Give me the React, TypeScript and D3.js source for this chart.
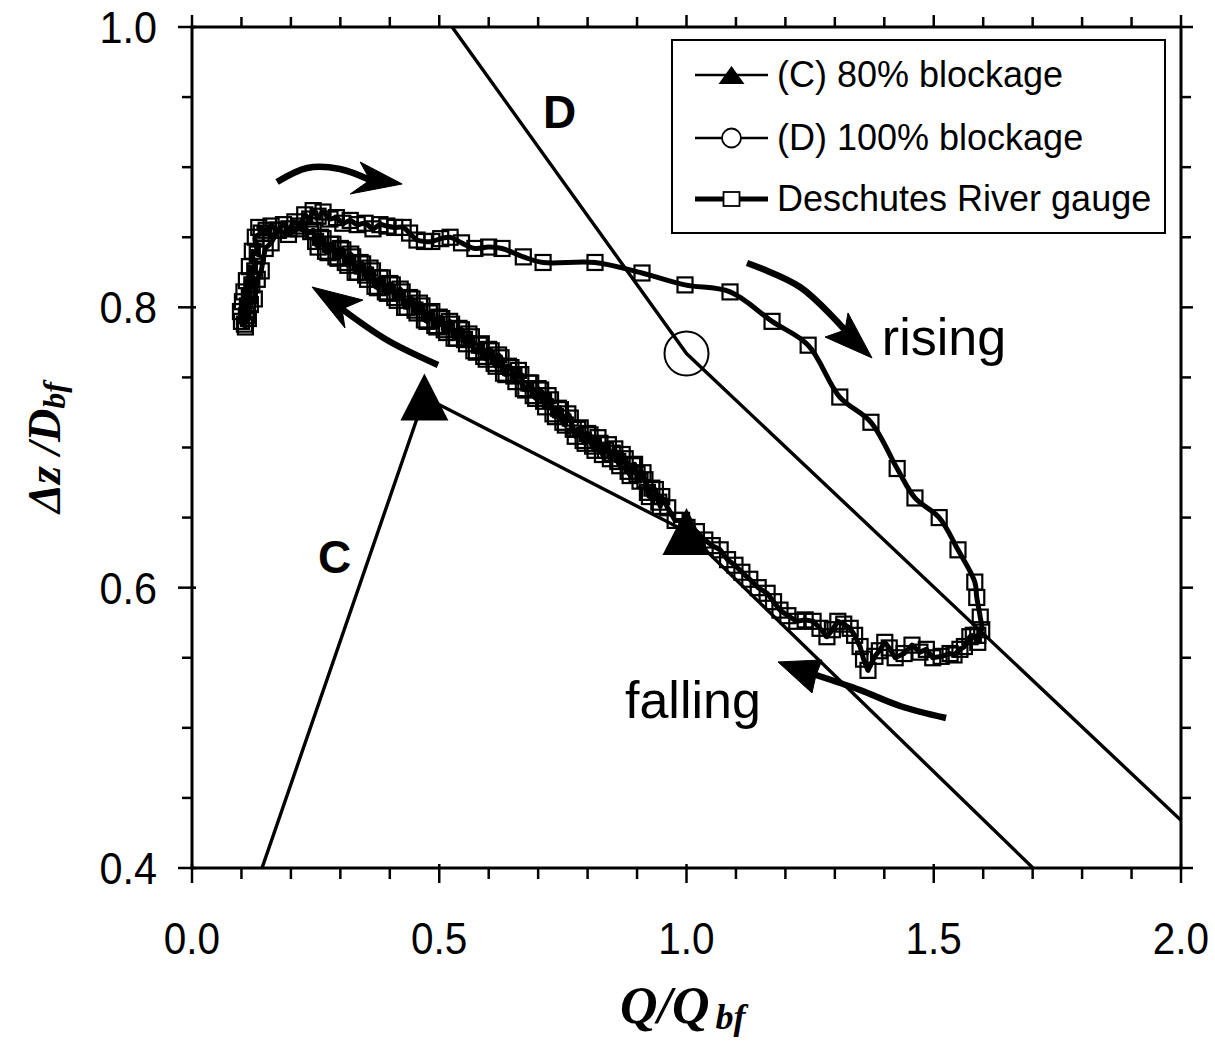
import React from 'react';
import * as d3 from 'd3';

const xTickValues = [0, 0.5, 1.0, 1.5, 2.0];
const yTickValues = [0.4, 0.6, 0.8, 1.0];
const xMinorStep = 0.1;
const yMinorStep = 0.05;

const lineC: [number, number][] = [[0.1416, 0.4], [0.47, 0.736], [1.0, 0.64], [1.7007, 0.4]];
const markersC: [number, number][] = [[0.47, 0.736], [1.0, 0.64]];
const lineD: [number, number][] = [[0.526, 1.0], [1.0, 0.767], [2.0, 0.434]];
const markersD: [number, number][] = [[1.0, 0.767]];

const risingLimb: [number, number][] = [
  [0.100, 0.790], [0.108, 0.786], [0.098, 0.797], [0.110, 0.794], [0.102, 0.804], [0.112, 0.801],
  [0.105, 0.811], [0.116, 0.808], [0.110, 0.819], [0.121, 0.816], [0.116, 0.829], [0.127, 0.826],
  [0.122, 0.840], [0.132, 0.838], [0.128, 0.850], [0.140, 0.853], [0.135, 0.857], [0.150, 0.855],
  [0.160, 0.858], [0.172, 0.855], [0.185, 0.859], [0.196, 0.856], [0.208, 0.861], [0.218, 0.858],
  [0.228, 0.866], [0.238, 0.863], [0.245, 0.869], [0.255, 0.865], [0.265, 0.868], [0.279, 0.863],
  [0.292, 0.864], [0.305, 0.860], [0.320, 0.862], [0.334, 0.859], [0.350, 0.860], [0.366, 0.856],
  [0.380, 0.859], [0.394, 0.858], [0.410, 0.857], [0.427, 0.857], [0.440, 0.853], [0.455, 0.848],
  [0.470, 0.847], [0.485, 0.847], [0.503, 0.849], [0.522, 0.850], [0.545, 0.846], [0.572, 0.842],
  [0.600, 0.843], [0.627, 0.842], [0.670, 0.836], [0.710, 0.832], [0.815, 0.832], [0.910, 0.8245],
  [0.997, 0.816], [1.088, 0.811], [1.173, 0.790], [1.246, 0.773], [1.310, 0.736], [1.373, 0.718],
  [1.426, 0.685], [1.462, 0.664], [1.511, 0.650], [1.549, 0.627], [1.583, 0.604], [1.587, 0.593],
  [1.594, 0.579], [1.597, 0.570], [1.589, 0.566],
];

const fallingLimb: [number, number][] = [
  [1.589, 0.561], [1.580, 0.566], [1.573, 0.565], [1.562, 0.558], [1.553, 0.556], [1.541, 0.552],
  [1.533, 0.553], [1.515, 0.551], [1.498, 0.550], [1.485, 0.556], [1.472, 0.554], [1.456, 0.559],
  [1.440, 0.553], [1.422, 0.550], [1.410, 0.557], [1.401, 0.561], [1.390, 0.555], [1.381, 0.551],
  [1.367, 0.541], [1.358, 0.549], [1.351, 0.558], [1.340, 0.566], [1.331, 0.571], [1.318, 0.574],
  [1.306, 0.576], [1.295, 0.570], [1.284, 0.565], [1.270, 0.571], [1.256, 0.576], [1.240, 0.577],
  [1.223, 0.576], [1.205, 0.580], [1.189, 0.584], [1.176, 0.590], [1.163, 0.596], [1.145, 0.600],
  [1.128, 0.606], [1.112, 0.611], [1.098, 0.616], [1.083, 0.620], [1.068, 0.627], [1.052, 0.630],
  [1.037, 0.634], [1.020, 0.640], [1.001, 0.643], [0.990, 0.648], [0.977, 0.648], [0.962, 0.657],
  [0.950, 0.665], [0.947, 0.658], [0.944, 0.661], [0.937, 0.670], [0.930, 0.671], [0.925, 0.665],
  [0.921, 0.668], [0.916, 0.677], [0.912, 0.682], [0.906, 0.676], [0.900, 0.681], [0.895, 0.688],
  [0.891, 0.687], [0.886, 0.680], [0.882, 0.683], [0.876, 0.692], [0.870, 0.695], [0.865, 0.687],
  [0.861, 0.690], [0.855, 0.699], [0.850, 0.696], [0.846, 0.692], [0.842, 0.702], [0.836, 0.698],
  [0.830, 0.695], [0.825, 0.703], [0.821, 0.707], [0.815, 0.698], [0.810, 0.701], [0.805, 0.709],
  [0.800, 0.710], [0.795, 0.703], [0.791, 0.705], [0.785, 0.714], [0.780, 0.713], [0.775, 0.708],
  [0.771, 0.713], [0.765, 0.721], [0.760, 0.724], [0.755, 0.716], [0.750, 0.718], [0.745, 0.727],
  [0.741, 0.728], [0.735, 0.722], [0.730, 0.724], [0.725, 0.734], [0.720, 0.737], [0.715, 0.729],
  [0.711, 0.733], [0.705, 0.741], [0.700, 0.742], [0.695, 0.735], [0.690, 0.737], [0.685, 0.746],
  [0.681, 0.746], [0.675, 0.741], [0.670, 0.742], [0.665, 0.752], [0.660, 0.755], [0.655, 0.747],
  [0.651, 0.751], [0.645, 0.757], [0.640, 0.758], [0.635, 0.752], [0.630, 0.753], [0.625, 0.764],
  [0.620, 0.766], [0.615, 0.758], [0.611, 0.760], [0.605, 0.769], [0.600, 0.770], [0.595, 0.763],
  [0.590, 0.765], [0.585, 0.774], [0.581, 0.773], [0.575, 0.768], [0.570, 0.769], [0.565, 0.779],
  [0.560, 0.781], [0.555, 0.774], [0.551, 0.777], [0.545, 0.784], [0.540, 0.785], [0.535, 0.778],
  [0.530, 0.778], [0.525, 0.788], [0.521, 0.790], [0.515, 0.782], [0.510, 0.784], [0.505, 0.792],
  [0.500, 0.793], [0.495, 0.786], [0.491, 0.787], [0.485, 0.797], [0.480, 0.796], [0.475, 0.790],
  [0.470, 0.791], [0.465, 0.801], [0.460, 0.803], [0.455, 0.796], [0.451, 0.798], [0.445, 0.806],
  [0.440, 0.807], [0.435, 0.800], [0.430, 0.800], [0.425, 0.811], [0.421, 0.813], [0.415, 0.805],
  [0.410, 0.807], [0.405, 0.816], [0.400, 0.817], [0.395, 0.810], [0.391, 0.811], [0.385, 0.821],
  [0.380, 0.821], [0.375, 0.814], [0.370, 0.815], [0.365, 0.826], [0.360, 0.828], [0.355, 0.820],
  [0.351, 0.823], [0.345, 0.831], [0.340, 0.832], [0.335, 0.825], [0.330, 0.825], [0.325, 0.836],
  [0.321, 0.838], [0.315, 0.830], [0.310, 0.832], [0.305, 0.841], [0.300, 0.842], [0.295, 0.835],
  [0.291, 0.836], [0.285, 0.845], [0.280, 0.845], [0.275, 0.839], [0.270, 0.840], [0.265, 0.849],
  [0.260, 0.850], [0.255, 0.843], [0.250, 0.847], [0.245, 0.855], [0.240, 0.854],
  [0.215, 0.856], [0.195, 0.852], [0.175, 0.855], [0.160, 0.846], [0.148, 0.842], [0.140, 0.826],
  [0.132, 0.820], [0.126, 0.806], [0.118, 0.802], [0.114, 0.792], [0.106, 0.788],
];

type Arrow = { shaft: [number, number][]; head: [number, number][] };
const arrows: Arrow[] = [
  { shaft: [[0.172, 0.8894], [0.233, 0.8994], [0.299, 0.8987], [0.360, 0.8908]],
    head: [[0.340, 0.9037], [0.425, 0.888], [0.320, 0.8809], [0.360, 0.8908]] },
  { shaft: [[0.4975, 0.7589], [0.3943, 0.7767], [0.3033, 0.7988]],
    head: [[0.3458, 0.8052], [0.2427, 0.8145], [0.3094, 0.7853], [0.3033, 0.7988]] },
  { shaft: [[1.1223, 0.8316], [1.2295, 0.8145], [1.3205, 0.7838]],
    head: [[1.3266, 0.796], [1.3751, 0.7639], [1.2801, 0.7788], [1.3205, 0.7838]] },
  { shaft: [[1.5248, 0.507], [1.4317, 0.5156], [1.3509, 0.527], [1.2619, 0.5377]],
    head: [[1.274, 0.5484], [1.185, 0.547], [1.2538, 0.5249], [1.2619, 0.5377]] },
];

const textLabels = [
  { text: 'rising', x: 1.395, y: 0.766, size: 52, weight: 'normal' },
  { text: 'falling', x: 0.8756, y: 0.507, size: 52, weight: 'normal' },
  { text: 'D', x: 0.71, y: 0.928, size: 46, weight: 'bold' },
  { text: 'C', x: 0.255, y: 0.6105, size: 46, weight: 'bold' },
];

const legendItems = ['(C) 80% blockage', '(D) 100% blockage', 'Deschutes River gauge'];

const SANS = '"Liberation Sans", Arial, Helvetica, sans-serif';
const SERIF = '"Liberation Serif", "Times New Roman", serif';

export default function App() {
  const W = 1215, H = 1041;
  const x = d3.scaleLinear().domain([0, 2]).range([192, 1181]);
  const y = d3.scaleLinear().domain([0.4, 1.0]).range([868, 27]);
  const line = d3.line<[number, number]>().x(d => x(d[0])).y(d => y(d[1]));
  const smooth = d3.line<[number, number]>().x(d => x(d[0])).y(d => y(d[1])).curve(d3.curveCatmullRom.alpha(0.5));
  const gauge = [...risingLimb, ...fallingLimb];
  const xMinor = d3.range(0, 2.0001, xMinorStep);
  const yMinor = d3.range(0.4, 1.0001, yMinorStep);
  const isMajorX = (v: number) => xTickValues.some(t => Math.abs(t - v) < 1e-6);
  const isMajorY = (v: number) => yTickValues.some(t => Math.abs(t - v) < 1e-6);
  const [x0, x1] = x.range();
  const [yb, yt] = y.range();
  const tri = (cx: number, cy: number, w: number, h: number) =>
    `M${cx},${cy - h / 2}L${cx + w / 2},${cy + h / 2}L${cx - w / 2},${cy + h / 2}Z`;
  const sq = 15;

  const lg = { x: 672, y: 40, w: 493, h: 193, rows: [75, 138, 199], lx0: 695, lx1: 768, tx: 777 };

  return (
    <svg width={W} height={H} style={{ display: 'block', position: 'absolute', left: 0, top: 0, background: '#fff' }}>
      <defs>
        <clipPath id="plotClip">
          <rect x={x0} y={yt} width={x1 - x0} height={yb - yt} />
        </clipPath>
      </defs>
      <rect x={0} y={0} width={W} height={H} fill="#fff" />

      {/* series */}
      <g clipPath="url(#plotClip)">
        <path d={line(lineD) || ''} fill="none" stroke="#000" strokeWidth={3.4} />
        <path d={line(lineC) || ''} fill="none" stroke="#000" strokeWidth={3.4} />
        <path d={smooth(risingLimb) || ''} fill="none" stroke="#000" strokeWidth={5} strokeLinejoin="round" />
        <path d={line([risingLimb[risingLimb.length - 1], ...fallingLimb]) || ''} fill="none" stroke="#000" strokeWidth={5} strokeLinejoin="round" />
        {gauge.map((d, i) => (
          <rect key={i} x={x(d[0]) - sq / 2} y={y(d[1]) - sq / 2} width={sq} height={sq} fill="none" stroke="#000" strokeWidth={2.2} />
        ))}
        {markersC.map((d, i) => (
          <path key={i} d={tri(x(d[0]), y(d[1]), 48, 47)} fill="#000" />
        ))}
        {markersD.map((d, i) => (
          <circle key={i} cx={x(d[0])} cy={y(d[1])} r={22} fill="none" stroke="#000" strokeWidth={2} />
        ))}
      </g>

      {/* arrows */}
      {arrows.map((a, i) => (
        <g key={i}>
          <path d={smooth(a.shaft) || ''} fill="none" stroke="#000" strokeWidth={6.5} />
          <path d={(line(a.head) || '') + 'Z'} fill="#000" stroke="#000" strokeWidth={1} strokeLinejoin="miter" />
        </g>
      ))}

      {/* annotation text */}
      {textLabels.map((t, i) => (
        <text key={i} x={x(t.x)} y={y(t.y)} fontFamily={SANS} fontSize={t.size} fontWeight={t.weight} fill="#000">{t.text}</text>
      ))}

      {/* frame */}
      <rect x={x0} y={yt} width={x1 - x0} height={yb - yt} fill="none" stroke="#000" strokeWidth={3} />

      {/* x ticks bottom & top */}
      {xMinor.map((v, i) => {
        const major = isMajorX(v);
        return (
          <g key={i}>
            <line x1={x(v)} x2={x(v)} y1={major ? yb - 4 : yb} y2={yb + (major ? 15 : 11)} stroke="#000" strokeWidth={2.5} />
            <line x1={x(v)} x2={x(v)} y1={yt} y2={yt - (major ? 12 : 10)} stroke="#000" strokeWidth={2.5} />
          </g>
        );
      })}
      {/* y ticks left & right */}
      {yMinor.map((v, i) => {
        const major = isMajorY(v);
        return (
          <g key={i}>
            <line x1={major ? x0 + 4 : x0} x2={x0 - (major ? 14 : 10)} y1={y(v)} y2={y(v)} stroke="#000" strokeWidth={2.5} />
            <line x1={x1} x2={x1 + (major ? 12 : 10)} y1={y(v)} y2={y(v)} stroke="#000" strokeWidth={2.5} />
          </g>
        );
      })}

      {/* tick labels */}
      {xTickValues.map((v, i) => (
        <text key={i} transform={`translate(${x(v)},${954}) scale(0.9,1)`} textAnchor="middle" fontFamily={SANS} fontSize={45} fill="#000">{d3.format('.1f')(v)}</text>
      ))}
      {yTickValues.map((v, i) => (
        <text key={i} transform={`translate(${157},${y(v) + 16}) scale(0.92,1)`} textAnchor="end" fontFamily={SANS} fontSize={45} fill="#000">{d3.format('.1f')(v)}</text>
      ))}

      {/* axis titles */}
      <text x={620} y={1023} fontFamily={SERIF} fontStyle="italic" fontWeight="bold" fontSize={52} fill="#000">
        Q/Q<tspan fontSize={36} dx={6} dy={6}>bf</tspan>
      </text>
      <text transform={`translate(60,${(yt + yb) / 2}) rotate(-90)`} textAnchor="middle" fontFamily={SERIF} fontStyle="italic" fontWeight="bold" fontSize={46} fill="#000">
        Δz /D<tspan fontSize={32} dy={5}>bf</tspan>
      </text>

      {/* legend */}
      <rect x={lg.x} y={lg.y} width={lg.w} height={lg.h} fill="#fff" stroke="#000" strokeWidth={2} />
      {legendItems.map((label, i) => {
        const ry = lg.rows[i];
        const mx = (lg.lx0 + lg.lx1) / 2;
        return (
          <g key={i}>
            <line x1={lg.lx0} x2={lg.lx1} y1={ry} y2={ry} stroke="#000" strokeWidth={i === 2 ? 5 : 2.5} />
            {i === 0 && <path d={tri(mx, ry, 26, 18)} fill="#000" />}
            {i === 1 && <circle cx={mx} cy={ry} r={9.5} fill="#fff" stroke="#000" strokeWidth={1.8} />}
            {i === 2 && <rect x={mx - 8} y={ry - 7} width={16} height={14} fill="#fff" stroke="#000" strokeWidth={1.8} />}
            <text x={lg.tx} y={ry + 12} fontFamily={SANS} fontSize={36} fill="#000">{label}</text>
          </g>
        );
      })}
    </svg>
  );
}
